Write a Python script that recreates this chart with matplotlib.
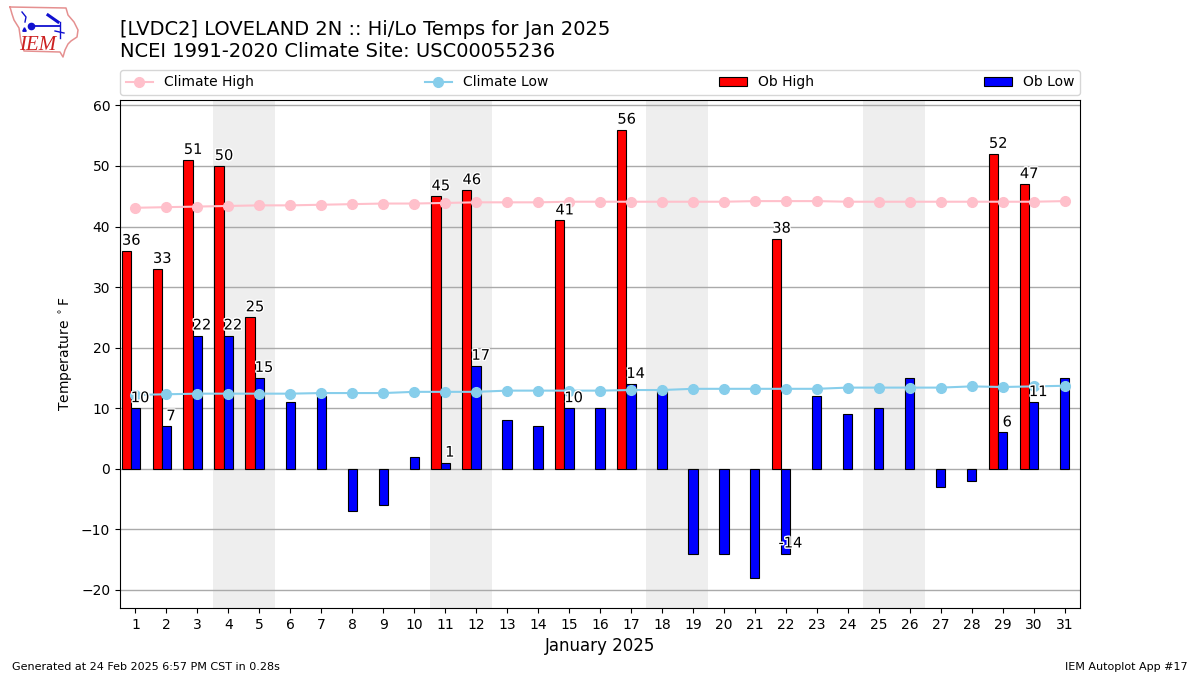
import matplotlib
matplotlib.use("Agg")
import matplotlib.pyplot as plt
import matplotlib.patheffects as pe
import numpy as np

days = np.arange(1, 32)
ob_high = {1: 36, 2: 33, 3: 51, 4: 50, 5: 25, 11: 45, 12: 46, 15: 41, 17: 56, 22: 38, 29: 52, 30: 47}
ob_low = [10, 7, 22, 22, 15, 11, 12, -7, -6, 2, 1, 17, 8, 7, 10, 10,
          14, 13, -14, -14, -18, -14, 12, 9, 10, 15, -3, -2, 6, 11, 15]
climate_high = [43.1, 43.2, 43.3, 43.4, 43.5, 43.5, 43.6, 43.7, 43.8, 43.8, 43.9,
                44.0, 44.0, 44.0, 44.1, 44.1, 44.1, 44.1, 44.1, 44.1, 44.2, 44.2,
                44.2, 44.1, 44.1, 44.1, 44.1, 44.1, 44.1, 44.1, 44.2]
climate_low = [12.2, 12.3, 12.4, 12.4, 12.4, 12.4, 12.5, 12.5, 12.5, 12.7, 12.7,
               12.7, 12.9, 12.9, 12.9, 12.9, 13.0, 13.0, 13.2, 13.2, 13.2, 13.2,
               13.2, 13.4, 13.4, 13.4, 13.4, 13.6, 13.5, 13.6, 13.7]
weekends = [4, 11, 18, 25]

fig = plt.figure(figsize=(12, 6.75), dpi=100)
ax = fig.add_axes([120 / 1200, 1 - 608 / 675, 960 / 1200, 508 / 675])

for d in weekends:
    ax.axvspan(d - 0.5, d + 1.5, color="#EEEEEE", lw=0, zorder=0)
ax.grid(axis="y", color="#AAAAAA", lw=1, zorder=1)
ax.set_axisbelow(True)

high_days = list(ob_high.keys())
high_vals = list(ob_high.values())
ax.bar(np.array(high_days) - 0.3, high_vals, width=0.3, color="r", edgecolor="k",
       lw=0.8, label="Ob High", zorder=2)
ax.bar(days, ob_low, width=0.3, color="b", edgecolor="k", lw=0.8, label="Ob Low", zorder=2)
ax.plot(days, climate_high, "-o", color="pink", lw=1.5, ms=7, label="Climate High", zorder=3)
ax.plot(days, climate_low, "-o", color="skyblue", lw=1.5, ms=7, label="Climate Low", zorder=3)

halo = [pe.withStroke(linewidth=2, foreground="white")]
for d, v in ob_high.items():
    ax.text(d - 0.14, v + 1.0, str(v), ha="center", va="baseline", fontsize=10.5,
            path_effects=halo, zorder=4)
    low = ob_low[d - 1]
    ax.text(d + 0.15, low + 1.0, str(low), ha="center", va="baseline", fontsize=10.5,
            path_effects=halo, zorder=4)

ax.set_xlim(0.5, 31.5)
ax.set_ylim(-23, 60.9)
ax.set_xticks(days)
ax.set_yticks(np.arange(-20, 61, 10))
ax.set_xlabel("January 2025", fontsize=12)
ax.set_ylabel(r"Temperature $^\circ$F")

handles, labels = ax.get_legend_handles_labels()
order = [labels.index(n) for n in ["Climate High", "Climate Low", "Ob High", "Ob Low"]]
ax.legend([handles[i] for i in order], [labels[i] for i in order], ncol=4, mode="expand",
          loc="lower left", bbox_to_anchor=(0, 1.01, 1, 0.05), borderaxespad=0, fontsize=10)

fig.text(120 / 1200, 1 - 61 / 675, "[LVDC2] LOVELAND 2N :: Hi/Lo Temps for Jan 2025\n"
         "NCEI 1991-2020 Climate Site: USC00055236", fontsize=14, ha="left", va="bottom")
fig.text(12 / 1200, 1 - 670 / 675, "Generated at 24 Feb 2025 6:57 PM CST in 0.28s", fontsize=8)
fig.text(1188 / 1200, 1 - 670 / 675, "IEM Autoplot App #17", fontsize=8, ha="right")

# logo: rough Iowa outline with the IEM mark
logo = fig.add_axes([0, 1 - 60 / 675, 80 / 1200, 60 / 675])
logo.set_xlim(0, 80)
logo.set_ylim(60, 0)
logo.axis("off")
iowa_x = [10, 66, 68, 74, 78, 77, 71, 68, 65, 63, 60, 24, 21, 19, 14, 12, 10]
iowa_y = [7, 8, 15, 22, 30, 37, 41, 44, 50, 57, 52, 51, 42, 28, 20, 14, 7]
logo.plot(iowa_x, iowa_y, color="#E59090", lw=1.1)
logo.plot([31, 60], [26, 26], color="#1010D0", lw=1.3)
logo.plot(31, 26, "o", color="#1010D0", ms=4.5)
logo.plot([22, 26, 25], [12, 17, 22], color="#1010D0", lw=1)
logo.plot([48, 58], [15, 22], color="#1010D0", lw=2.2)
logo.plot([60, 60], [22, 38], color="#1010D0", lw=1)
logo.plot([55, 64], [31, 33], color="#1010D0", lw=1)
logo.plot(24, 29, "^", color="#1010D0", ms=2.5)
logo.text(38, 46, "IEM", color="#CC2020", fontsize=15, family="Liberation Serif",
          style="italic", ha="center", va="center")

fig.savefig("out.png", dpi=100)
